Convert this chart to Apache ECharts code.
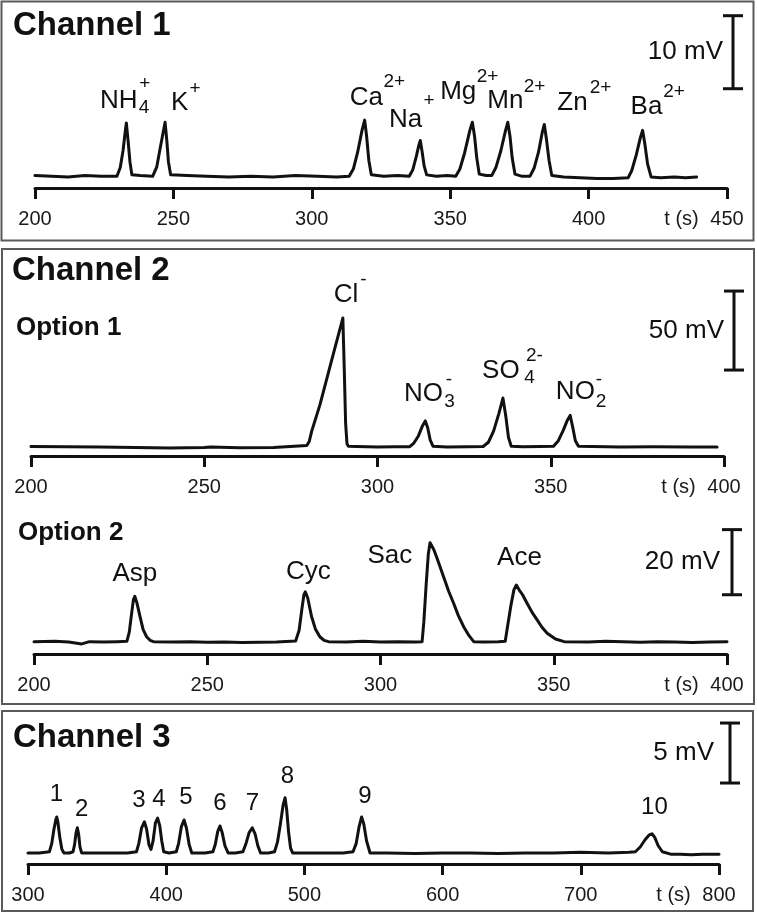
<!DOCTYPE html>
<html><head><meta charset="utf-8">
<script src="https://cdn.jsdelivr.net/npm/echarts@6/dist/echarts.min.js"></script>
<style>html,body{margin:0;padding:0;background:#fff}#c{width:757px;height:914px}</style>
</head><body><div id="c"></div>
<script>
// ---------------- DATA ----------------
// Channel 1 electropherogram: [time (s), signal (mV)]
const ch1Trace = [
  [200,0.1],[206,0.0],[212,-0.1],[218,0.1],[224,0.0],[229.6,0.0],
  [230.8,1.2],[231.8,3.5],[232.5,5.8],[233,7.3],[233.6,5.0],[234.3,2.0],[235,0.2],
  [238,0.1],[242.5,0.0],
  [244,1.3],[245.2,3.8],[246.4,6.2],[247,7.4],[247.6,5.0],[248.2,2.0],[249,0.2],
  [255,0.1],[262,0.0],[270,-0.1],[278,0.0],[286,-0.1],[294,0.1],[302,0.0],[309,-0.1],[313.5,0.0],
  [315,1.0],[316.5,3.2],[318.2,6.4],[319.1,7.7],[319.8,5.5],[320.6,2.2],[321.5,0.2],
  [326,0.0],[331,0.1],[335.2,0.0],
  [336.5,0.9],[337.8,2.8],[338.7,4.3],[339.2,4.9],[339.8,3.5],[340.6,1.4],[341.5,0.2],
  [345,0.0],[349,0.1],[352,0.0],
  [353.5,1.0],[355.2,3.2],[357.1,6.3],[358,7.4],[358.8,5.5],[359.6,2.5],[360.5,0.3],
  [363,0.1],[365,0.1],
  [366.5,1.2],[368.3,3.5],[370,6.3],[370.8,7.4],[371.6,5.5],[372.4,2.5],[373.4,0.3],
  [376,0.0],[378.8,0.0],
  [380.3,1.1],[381.9,3.3],[383.3,6.1],[384,7.1],[384.8,5.0],[385.7,2.2],[386.7,0.1],
  [391,-0.1],[397,-0.2],[403,-0.3],[409,-0.3],[414.3,-0.2],
  [415.6,0.8],[417.2,2.9],[418.7,5.3],[419.5,6.3],[420.3,4.5],[421.3,1.7],[422.6,-0.1],
  [426,-0.2],[431,-0.1],[435,-0.2],[439,-0.1]
];
// Channel 2, option 1
const opt1Trace = [
  [200,0.3],[210,0.2],[220,0.0],[230,-0.3],[240,-0.6],[250,-0.3],[252,0.0],[260,-0.5],[270,-0.3],[276,0.5],
  [279.6,1.0],[280.3,3.5],[281,9.9],[283.4,26.8],[287.2,58.4],[290,81.6],[290.4,50],[290.8,15],[291.2,2],[291.6,0.5],
  [294,0.3],[300,0.0],[305,0.1],[309.3,0.2],
  [310.5,2.5],[311.8,7],[313,13.5],[313.8,16.5],[314.5,12],[315.2,4.5],[316,0.5],
  [320,0.0],[326,0.1],[330.5,0.3],
  [332,3],[333.5,10],[335,21],[336.2,31],[337,20],[337.8,6],[338.6,0.5],
  [342,0.2],[347,0.3],[350.8,0.5],
  [352.2,4],[353.6,10.5],[354.8,17],[355.6,20],[356.3,13],[357.1,4],[358,0.5],
  [362,0.3],[370,0.0],[380,0.2],[390,0.0],[398,0.0]
];
// Channel 2, option 2
const opt2Trace = [
  [200,0.1],[206,0.2],[210,0],[213.8,-0.6],[216,0.1],[220,0.0],[224,0.1],[226.8,0.2],
  [227.5,3],[228.2,9],[228.7,13],[229.1,14],[229.7,12],[230.6,7.8],[231.5,3.8],[232.5,1.6],[233.5,0.5],[234.5,0.1],
  [240,0.0],[245,0.1],[250,-0.1],[255,0.0],[260,-0.2],[265,-0.1],[270,0.0],[275.5,0.3],
  [276.5,3.5],[277.3,10],[277.9,14.5],[278.3,15.4],[279,13.5],[280.1,7.8],[281.2,4],[282.5,1.6],[283.7,0.5],[285,0.1],
  [290,0.0],[295,0.2],[300,0.0],[305,0.1],[310,0.0],[312,0.1],
  [312.5,6],[313.2,18],[313.8,27],[314.3,30.5],[315.4,28.3],[316.3,25.8],[318.2,20],[319.7,15.5],[321.1,11.9],[322.5,8],[324,4.7],[325.5,2],[326.9,0.1],
  [330,0.0],[334,0.1],[336,0.2],
  [336.7,5],[337.6,11],[338.5,16],[339.2,17.5],[340,16],[341,14.5],[342.3,11.9],[343.8,9],[345.2,6.8],[346.6,4.5],[348.1,2.7],[350.5,0.9],[353,0.1],
  [360,0.0],[365,0.2],[370,0.1],[375,-0.1],[380,0.1],[385,0.0],[390,-0.2],[395,0.0],[400,0.1]
];
// Channel 3
const ch3Trace = [
  [300,0.0],[308,0.0],[315.5,0.1],
  [317.2,0.8],[318.8,2.0],[320.2,2.8],[320.8,3.0],[321.6,2.6],[323,1.3],[324.5,0.3],[326,0.0],
  [330,0.0],[332.6,0.1],
  [333.7,0.7],[334.8,1.7],[335.7,2.1],[336.6,1.6],[337.6,0.5],[338.8,0.0],
  [345,0.0],[355,0.0],[365,0.0],[372,0.0],[378.5,0.1],
  [380.2,0.8],[382.2,2.1],[384.2,2.6],[385.8,2.0],[387.5,0.7],[389,0.3],
  [390.5,1.0],[392.2,2.5],[393.8,2.9],[395.3,2.3],[396.8,1.0],[398.2,0.1],
  [402,0.0],[407.3,0.1],
  [409,0.8],[411,2.2],[412.9,2.75],[414.6,2.1],[416.6,0.7],[418.5,0.0],
  [423,0.0],[428,0.0],[433.8,0.1],
  [435.5,0.7],[437.3,1.8],[438.9,2.25],[440.5,1.7],[442.5,0.6],[444.8,0.0],
  [450,0.0],[455.5,0.1],
  [457.5,0.7],[460,1.7],[462.3,2.1],[464.3,1.6],[466.3,0.6],[468.3,0.0],
  [474,0.0],[478.4,0.1],
  [480.5,0.9],[482.6,2.4],[484.6,4.0],[486,4.6],[487.2,3.6],[488.5,1.8],[490,0.4],[491.5,0.0],
  [500,0.0],[510,0.0],[520,0.0],[528,0.0],[535.2,0.1],
  [537.5,0.8],[539.6,2.2],[541.4,3.0],[543,2.4],[545,1.0],[547.5,0.0],
  [560,0.0],[580,-0.05],[600,0.0],[620,0.0],[640,-0.05],[660,0.0],[680,0.0],[700,0.05],[720,0.0],[735,0.05],[739.5,0.1],
  [743,0.5],[746.5,1.1],[749.5,1.5],[751.5,1.6],[753.5,1.3],[756,0.6],[759,0.1],
  [765,-0.1],[772,-0.1],[780,-0.15],[788,-0.1],[795,-0.1],[800,-0.1]
];

// Peak labels: [time, signal, text]
const ch1Names = [[230.3,10.4,'NH'],[252.3,10.1,'K'],[319.7,10.7,'Ca'],[333.9,7.8,'Na'],[352.9,11.6,'Mg'],[369.9,10.4,'Mn'],[394.2,10.1,'Zn'],[420.9,9.45,'Ba']];
const ch1Sub   = [[239.4,9.45,'4']];
const ch1Sup   = [[239.7,12.7,'+'],[257.8,12.05,'+'],[329.8,12.9,'2+'],[342.4,10.3,'+'],[363.5,13.7,'2+'],[380.5,12.3,'2+'],[404.3,12.1,'2+'],[430.9,11.6,'2+']];

const opt1Names = [[290.9,96.5,'Cl'],[313.3,33.7,'NO'],[335.6,48.4,'SO'],[357.1,34.8,'NO']];
const opt1Sub   = [[320.8,28.5,'3'],[343.9,43.7,'4'],[364.5,28.9,'2']];
const opt1Sup   = [[295.9,105.9,'-'],[320.6,42.6,'-'],[345.3,57.6,'2-'],[363.9,42.6,'-']];

const opt2Names = [[229.1,20.9,'Asp'],[279.2,21.4,'Cyc'],[302.7,26.5,'Sac'],[340.1,25.8,'Ace']];

const ch3Names = [[320.6,4.86,'1'],[338.8,3.67,'2'],[380.3,4.35,'3'],[394.8,4.46,'4'],[414.3,4.6,'5'],[438.9,4.15,'6'],[462.4,4.17,'7'],[487.8,6.36,'8'],[543.8,4.75,'9'],[753.3,3.8,'10']];

// Scale bars: [time position, low mV, high mV]
const ch1Scale  = [452.3, 12, 22];
const opt1Scale = [402.9, 48.7, 98.7];
const opt2Scale = [401.4, 14.5, 34.5];
const ch3Scale  = [808, 5.83, 10.83];
const scaleTexts = ['10 mV', '50 mV', '20 mV', '5 mV'];

// Axis ticks: [min, max, interval]
const ch1Ticks = [200, 450, 50];
const ch2Ticks = [200, 400, 50];
const ch3Ticks = [300, 800, 100];

// ---------------- CHART ----------------
const FONT = '"Liberation Sans", Arial, Helvetica, sans-serif';
const INK = '#111';
const chart = echarts.init(document.getElementById('c'), null, {renderer: 'canvas'});

const grids = [
  {left: 35, right: 30, top: 15.7, height: 172.3, outerBoundsMode: 'none'},
  {left: 31, right: 33, top: 289, height: 167, outerBoundsMode: 'none'},
  {left: 34, right: 30, top: 528, height: 126, outerBoundsMode: 'none'},
  {left: 28, right: 38, top: 721, height: 143, outerBoundsMode: 'none'}
];
const yRanges = [[-1.6, 22], [-5.7, 100], [-3.7, 35], [-0.92, 11]];
const xTicks = [ch1Ticks, ch2Ticks, ch2Ticks, ch3Ticks];

function makeX(i) {
  const [mn, mx, iv] = xTicks[i];
  return {
    type: 'value', gridIndex: i, min: mn, max: mx, interval: iv, position: 'bottom',
    axisLine: {show: true, onZero: false, lineStyle: {color: INK, width: 3}},
    axisTick: {show: true, length: 11, lineStyle: {color: INK, width: 3}},
    splitLine: {show: false},
    axisLabel: {
      margin: 21, color: '#1a1a1a', fontSize: 20, fontFamily: FONT,
      formatter: v => v === mx ? '{u|t (s)}{n|' + v + '}{p|}' : '{n|' + v + '}',
      rich: {
        n: {fontSize: 20, fontFamily: FONT, color: '#1a1a1a'},
        u: {fontSize: 20, fontFamily: FONT, color: '#1a1a1a', width: 46, align: 'left'},
        p: {width: 46}
      }
    }
  };
}
function makeY(i) {
  return {type: 'value', gridIndex: i, min: yRanges[i][0], max: yRanges[i][1], show: false,
    axisLine: {onZero: false}, splitLine: {show: false}};
}
function traceSeries(i, data) {
  return {type: 'line', xAxisIndex: i, yAxisIndex: i, data: data, showSymbol: false, symbol: 'none',
    lineStyle: {color: INK, width: 3, join: 'round', cap: 'round'}, silent: true, animation: false, z: 3};
}
function labelSeries(i, arr, size) {
  return {type: 'custom', xAxisIndex: i, yAxisIndex: i, clip: false, silent: true, animation: false,
    data: arr.map(d => [d[0], d[1]]), encode: {x: 0, y: 1},
    renderItem: (params, api) => {
      const p = api.coord([api.value(0), api.value(1)]);
      return {type: 'text', x: p[0], y: p[1],
        style: {text: arr[params.dataIndex][2], fill: INK, font: size + 'px ' + FONT,
          align: 'center', verticalAlign: 'middle'}};
    }, z: 5};
}
function scaleSeries(i, bar, text, gap) {
  return {type: 'custom', xAxisIndex: i, yAxisIndex: i, clip: false, silent: true, animation: false,
    data: [bar], encode: {x: 0, y: [1, 2]},
    renderItem: (params, api) => {
      const lo = api.coord([api.value(0), api.value(1)]);
      const hi = api.coord([api.value(0), api.value(2)]);
      const x = Math.round(lo[0]);
      const st = {stroke: INK, lineWidth: 3};
      return {type: 'group', children: [
        {type: 'line', shape: {x1: x, y1: hi[1], x2: x, y2: lo[1]}, style: st},
        {type: 'line', shape: {x1: x - 10, y1: hi[1], x2: x + 10, y2: hi[1]}, style: st},
        {type: 'line', shape: {x1: x - 10, y1: lo[1], x2: x + 10, y2: lo[1]}, style: st},
        {type: 'text', x: x - gap, y: (lo[1] + hi[1]) / 2,
          style: {text: text, fill: INK, font: '26px ' + FONT, align: 'right', verticalAlign: 'middle'}}
      ]};
    }, z: 4};
}

const series = [
  traceSeries(0, ch1Trace), traceSeries(1, opt1Trace), traceSeries(2, opt2Trace), traceSeries(3, ch3Trace),
  labelSeries(0, ch1Names, 26), labelSeries(0, ch1Sub, 19), labelSeries(0, ch1Sup, 19),
  labelSeries(1, opt1Names, 26), labelSeries(1, opt1Sub, 19), labelSeries(1, opt1Sup, 19),
  labelSeries(2, opt2Names, 26),
  labelSeries(3, ch3Names, 24),
  scaleSeries(0, ch1Scale, scaleTexts[0], 10),
  scaleSeries(1, opt1Scale, scaleTexts[1], 10),
  scaleSeries(2, opt2Scale, scaleTexts[2], 12),
  scaleSeries(3, ch3Scale, scaleTexts[3], 16)
];

const boxStyle = {stroke: '#5a5a5a', lineWidth: 2, fill: 'none'};
function title(text, x, y, size) {
  return {type: 'text', x: x, y: y, style: {text: text, font: 'bold ' + size + 'px ' + FONT, fill: INK, verticalAlign: 'middle'}, z: 10};
}

chart.setOption({
  animation: false,
  backgroundColor: '#fff',
  grid: grids,
  xAxis: [0, 1, 2, 3].map(makeX),
  yAxis: [0, 1, 2, 3].map(makeY),
  series: series,
  graphic: [
    {type: 'rect', shape: {x: 1.5, y: 1.5, width: 752, height: 239}, style: boxStyle, z: 1},
    {type: 'rect', shape: {x: 2, y: 249, width: 752, height: 455}, style: boxStyle, z: 1},
    {type: 'rect', shape: {x: 2, y: 711, width: 751, height: 200}, style: boxStyle, z: 1},
    title('Channel 1', 13, 26, 33),
    title('Channel 2', 12, 271, 33),
    title('Channel 3', 13, 738, 33),
    title('Option 1', 16, 328, 26),
    title('Option 2', 18, 533, 26)
  ]
});
</script></body></html>
